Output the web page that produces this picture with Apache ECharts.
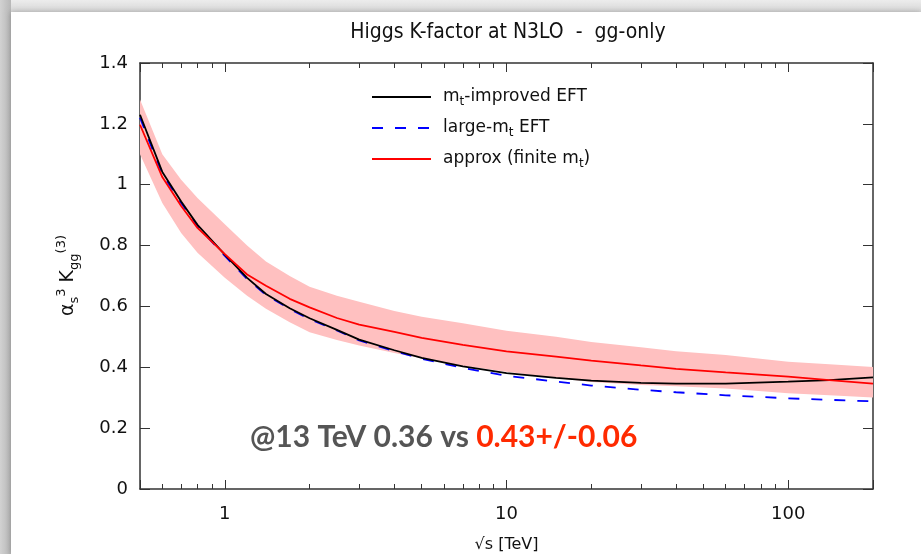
<!DOCTYPE html>
<html>
<head>
<meta charset="utf-8">
<script src="https://cdn.jsdelivr.net/npm/echarts@6/dist/echarts.min.js"></script>
<style>html,body{margin:0;padding:0;background:#fff}#c{width:921px;height:554px}</style>
</head>
<body>
<div id="c"></div>
<script>
// sqrt(s) in TeV
const xVals = [0.5, 0.6, 0.7, 0.8, 1, 1.2, 1.4, 1.7, 2, 2.5, 3, 4, 5, 7, 10, 15, 20, 30, 40, 60, 100, 140, 200];
const mtImproved = [1.23, 1.042, 0.945, 0.868, 0.77, 0.694, 0.641, 0.594, 0.561, 0.523, 0.491, 0.456, 0.431, 0.403, 0.381, 0.365, 0.356, 0.349, 0.346, 0.346, 0.353, 0.358, 0.367];
const largeMt = [1.22, 1.035, 0.94, 0.864, 0.766, 0.690, 0.638, 0.592, 0.558, 0.521, 0.488, 0.453, 0.428, 0.398, 0.372, 0.353, 0.340, 0.326, 0.318, 0.308, 0.298, 0.293, 0.288];
const approx = [1.197, 1.025, 0.93, 0.858, 0.772, 0.705, 0.668, 0.625, 0.597, 0.562, 0.540, 0.516, 0.497, 0.474, 0.452, 0.435, 0.422, 0.406, 0.395, 0.383, 0.369, 0.358, 0.346];
const approxUpper = [1.28, 1.10, 1.016, 0.956, 0.87, 0.80, 0.748, 0.70, 0.665, 0.635, 0.615, 0.585, 0.566, 0.545, 0.52, 0.50, 0.483, 0.466, 0.453, 0.44, 0.418, 0.41, 0.401];
const approxLower = [1.10, 0.94, 0.841, 0.776, 0.694, 0.635, 0.592, 0.548, 0.515, 0.490, 0.472, 0.447, 0.43, 0.405, 0.385, 0.365, 0.352, 0.342, 0.338, 0.33, 0.315, 0.308, 0.301];
const xMin = 0.5, xMax = 200;
const xMajorTicks = [1, 10, 100];
const xMinorTicks = [0.6, 0.7, 0.8, 0.9, 2, 3, 4, 5, 6, 7, 8, 9, 20, 30, 40, 50, 60, 70, 80, 90];
const seriesNames = ['mt-improved EFT', 'large-mt EFT', 'approx (finite mt)'];
const titleText = 'Higgs K-factor at N3LO  -  gg-only';
const xName = '√s [TeV]';

const pair = arr => xVals.map((x, i) => [x, arr[i]]);
const font = "'DejaVu Sans', sans-serif";
const axisColor = '#333';
const lg = Math.log10;

const chart = echarts.init(document.getElementById('c'), null, {renderer: 'canvas'});

const logX = {type: 'log', logBase: 10, min: xMin, max: xMax, splitLine: {show: false}, gridIndex: 0};
// helper axes in log10 space used only to draw the minor ticks of the log axis
const minorX = {
  type: 'value', min: lg(xMin), max: lg(xMax), splitLine: {show: false}, gridIndex: 0,
  axisLine: {show: false, onZero: false}, axisLabel: {show: false},
  axisTick: {show: true, inside: true, length: 5, customValues: xMinorTicks.map(lg), lineStyle: {color: axisColor, width: 1}}
};

const option = {
  animation: false,
  backgroundColor: '#d6d6d6',
  title: {
    text: titleText, left: 503, top: 17, textAlign: 'center',
    textStyle: {fontFamily: "'DejaVu Sans Condensed', 'DejaVu Sans', sans-serif", fontSize: 21, fontWeight: 'normal', color: '#111'}
  },
  grid: {left: 140, top: 63, right: 48, bottom: 65, containLabel: false, outerBoundsMode: 'none'},
  legend: {
    orient: 'vertical', left: 371, top: 86, padding: 0,
    itemWidth: 59, itemHeight: 14, itemGap: 9,
    data: seriesNames,
    itemStyle: {color: 'rgba(0,0,0,0)', borderColor: 'rgba(0,0,0,0)', borderWidth: 0, opacity: 0},
    formatter: function (n) {
      if (n === seriesNames[0]) return 'm{sub|t}-improved EFT';
      if (n === seriesNames[1]) return 'large-m{sub|t} EFT';
      return 'approx (finite m{sub|t})';
    },
    textStyle: {
      fontFamily: font, fontSize: 17, color: '#111', lineHeight: 22, padding: [0, 0, 0, 7],
      rich: {sub: {fontFamily: font, fontSize: 12, lineHeight: 12, verticalAlign: 'bottom', color: '#111'}}
    }
  },
  xAxis: [
    Object.assign({}, logX, {
      position: 'bottom',
      axisLine: {show: true, onZero: false, lineStyle: {color: axisColor, width: 1.5}},
      axisTick: {show: true, inside: true, length: 9, lineStyle: {color: axisColor, width: 1}},
      axisLabel: {show: true, margin: 16, fontFamily: font, fontSize: 18, color: '#111',
        formatter: v => (xMajorTicks.indexOf(v) >= 0 ? String(v) : '')},
      name: xName, nameLocation: 'middle', nameGap: 48,
      nameTextStyle: {fontFamily: font, fontSize: 16, color: '#111'}
    }),
    Object.assign({}, minorX, {position: 'bottom'}),
    Object.assign({}, logX, {
      position: 'top',
      axisLine: {show: true, onZero: false, lineStyle: {color: axisColor, width: 1.5}},
      axisTick: {show: true, inside: true, length: 9, lineStyle: {color: axisColor, width: 1}},
      axisLabel: {show: false}
    }),
    Object.assign({}, minorX, {position: 'top'})
  ],
  yAxis: [
    {
      type: 'value', min: 0, max: 1.4, interval: 0.2, position: 'left',
      splitLine: {show: false},
      axisLine: {show: true, onZero: false, lineStyle: {color: axisColor, width: 1.5}},
      axisTick: {show: true, inside: true, length: 10, lineStyle: {color: axisColor, width: 1}},
      axisLabel: {margin: 12, fontFamily: font, fontSize: 18, color: '#111'}
    },
    {
      type: 'value', min: 0, max: 1.4, interval: 0.2, position: 'right',
      splitLine: {show: false},
      axisLine: {show: true, onZero: false, lineStyle: {color: axisColor, width: 1.5}},
      axisTick: {show: true, inside: true, length: 10, lineStyle: {color: axisColor, width: 1}},
      axisLabel: {show: false}
    }
  ],
  graphic: [
    {type: 'rect', z: -100, silent: true, shape: {x: 0, y: 0, width: 921, height: 12},
      style: {fill: new echarts.graphic.LinearGradient(0, 0, 0, 1, [{offset: 0, color: '#ececec'}, {offset: 1, color: '#d9d9d9'}])}},
    {type: 'rect', z: -99, silent: true, shape: {x: 0, y: 0, width: 11, height: 554},
      style: {fill: new echarts.graphic.LinearGradient(0, 0, 1, 0, [{offset: 0, color: '#d2d2d2'}, {offset: 1, color: '#b8b8b8'}])}},
    {type: 'rect', z: -98, silent: true, shape: {x: 11, y: 12, width: 910, height: 542},
      style: {fill: '#ffffff', shadowBlur: 6, shadowColor: 'rgba(0,0,0,0.25)'}},
    {
      type: 'text', left: 55, top: 235, rotation: Math.PI / 2, silent: true, z: 50,
      style: {
        text: '{a|α}{s|s}{p|3}{a| K}{s|gg}{p|(3)}',
        rich: {
          a: {fontFamily: font, fontSize: 19, lineHeight: 26, verticalAlign: 'middle', fill: '#111'},
          s: {fontFamily: font, fontSize: 13, lineHeight: 14, verticalAlign: 'bottom', fill: '#111'},
          p: {fontFamily: font, fontSize: 13, lineHeight: 14, verticalAlign: 'top', fill: '#111'}
        }
      }
    },
    {
      type: 'text', left: 250, top: 422, silent: true, z: 50,
      style: {
        text: '{g|@13 TeV 0.36 vs }{r|0.43+/-0.06}',
        rich: {
          g: {fontFamily: 'Lato, sans-serif', fontWeight: 'bold', fontSize: 30, fill: '#555555'},
          r: {fontFamily: 'Lato, sans-serif', fontWeight: 'bold', fontSize: 30, fill: '#ff2a00'}
        }
      }
    }
  ],
  series: [
    {
      name: 'uncertainty band', type: 'custom', xAxisIndex: 0, yAxisIndex: 0, silent: true, z: 1, clip: true,
      data: xVals.map((x, i) => [x, approxLower[i], approxUpper[i]]),
      encode: {x: 0, y: [1, 2]},
      renderItem: function (params, api) {
        if (params.dataIndexInside !== 0) return null;
        const pts = [];
        for (let i = 0; i < xVals.length; i++) pts.push(api.coord([xVals[i], approxUpper[i]]));
        for (let i = xVals.length - 1; i >= 0; i--) pts.push(api.coord([xVals[i], approxLower[i]]));
        return {type: 'polygon', shape: {points: pts}, style: {fill: '#ffc0c0', stroke: null}};
      }
    },
    {
      name: seriesNames[0], type: 'line', xAxisIndex: 0, yAxisIndex: 0, symbol: 'none',
      lineStyle: {color: '#000000', width: 1.8}, itemStyle: {color: '#000000'},
      data: pair(mtImproved), z: 4
    },
    {
      name: seriesNames[1], type: 'line', xAxisIndex: 0, yAxisIndex: 0, symbol: 'none',
      lineStyle: {color: '#0000ff', width: 1.8, type: [11, 12]}, itemStyle: {color: '#0000ff'},
      data: pair(largeMt), z: 3
    },
    {
      name: seriesNames[2], type: 'line', xAxisIndex: 0, yAxisIndex: 0, symbol: 'none',
      lineStyle: {color: '#ff0000', width: 1.8}, itemStyle: {color: '#ff0000'},
      data: pair(approx), z: 5
    }
  ]
};
chart.setOption(option);
</script>
</body>
</html>
